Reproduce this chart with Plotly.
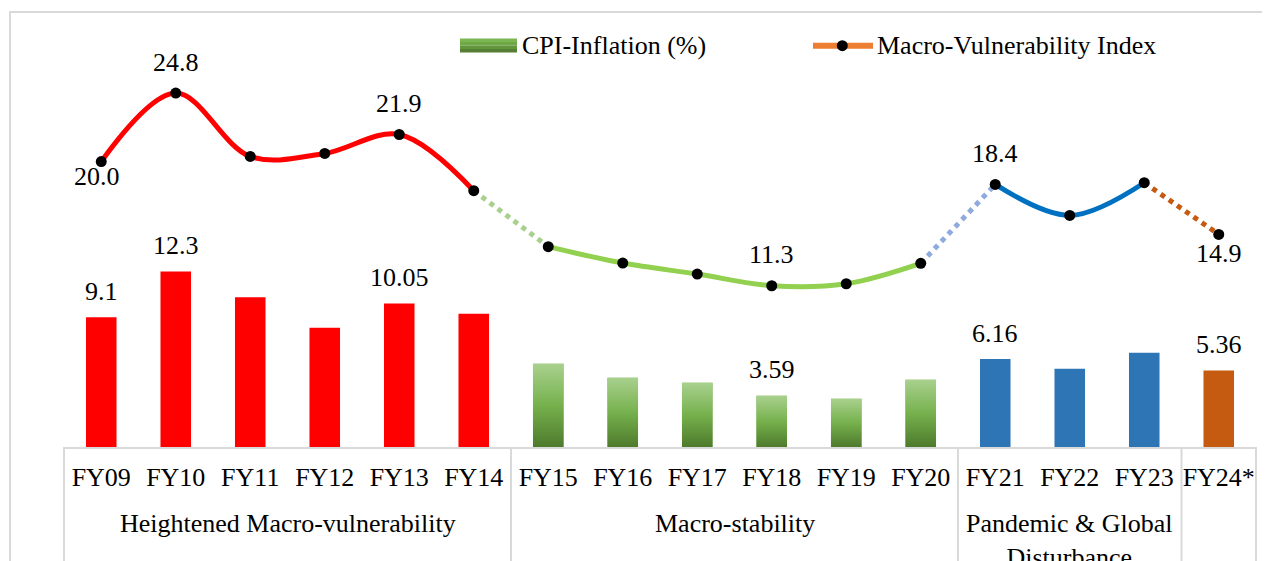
import plotly.graph_objects as go

# ---------------- data ----------------
categories = ["FY09", "FY10", "FY11", "FY12", "FY13", "FY14", "FY15", "FY16",
              "FY17", "FY18", "FY19", "FY20", "FY21", "FY22", "FY23", "FY24*"]
cpi = [9.1, 12.3, 10.5, 8.36, 10.05, 9.34, 5.84, 4.86,
       4.5, 3.59, 3.38, 4.72, 6.16, 5.49, 6.61, 5.36]
mvi = [20.0, 24.8, 20.36, 20.57, 21.9, 17.96, 14.04, 12.89,
       12.12, 11.3, 11.44, 12.87, 18.4, 16.23, 18.52, 14.9]
cpi_labels = ["9.1", "12.3", "", "", "10.05", "", "", "",
              "", "3.59", "", "", "6.16", "", "", "5.36"]
mvi_labels = ["20.0", "24.8", "", "", "21.9", "", "", "",
              "", "11.3", "", "", "18.4", "", "", "14.9"]
periods = ["Heightened Macro-vulnerability", "Macro-stability",
           "Pandemic & Global<br>Disturbance", ""]
period_sizes = [6, 6, 3, 1]

# ---------------- styling ----------------
FONT = "Liberation Serif, Times New Roman, serif"
FS = 26
bar_colors = ["#FF0000", "#70AD47", "#2E75B6", "#C55A11"]
green_scale = [[0, "#4E7A2C"], [0.5, "#76B14D"], [1, "#A9D18E"]]
# line segments: (start index, end index, colour, dash)
segments = [(0, 5, "#FF0000", "solid"), (5, 6, "#A9D18E", "5px,5px"),
            (6, 11, "#92D050", "solid"), (11, 12, "#8FAADC", "5px,5px"),
            (12, 14, "#0070C0", "solid"), (14, 15, "#C55A11", "5px,5px")]
BAR_W = 0.41

OFF = 8                      # page body margin
W, H = 1262, 553
ML, MR, MT, MB = 56, 14, 12, 114
PW, PH = W - ML - MR, H - MT - MB
PX_PER_UNIT = 14.27
YMAX = PH / PX_PER_UNIT
N = len(categories)


def px(xp):
    """page pixel x -> paper fraction"""
    return (xp - OFF - ML) / PW


def py(yp):
    """page pixel y -> paper fraction"""
    return (OFF + H - MB - yp) / PH


idx = list(range(N))
fig = go.Figure()

# bars per period
start = 0
period_ranges = []
for p, size in enumerate(period_sizes):
    ids = idx[start:start + size]
    period_ranges.append((start, start + size))
    fig.add_trace(go.Bar(x=ids, y=cpi[start:start + size], width=BAR_W,
                         marker=dict(color=bar_colors[p], line=dict(width=0)),
                         name="CPI-Inflation (%)", showlegend=False))
    start += size

# gradient overlay for macro-stability bars
g0, g1 = period_ranges[1]
for i in range(g0, g1):
    v = cpi[i]
    fig.add_trace(go.Scatter(
        x=[i - BAR_W / 2, i + BAR_W / 2, i + BAR_W / 2, i - BAR_W / 2],
        y=[0, 0, v, v], fill="toself", mode="lines", line=dict(width=0),
        fillgradient=dict(type="vertical", start=0, stop=v, colorscale=green_scale),
        hoverinfo="skip", showlegend=False))

# MVI line segments
for a, b, col, dash in segments:
    fig.add_trace(go.Scatter(x=idx[a:b + 1], y=mvi[a:b + 1], mode="lines",
                             line=dict(color=col, width=5, dash=dash, shape="spline"),
                             hoverinfo="skip", showlegend=False))
fig.add_trace(go.Scatter(x=idx, y=mvi, mode="markers",
                         marker=dict(color="black", size=11),
                         name="Macro-Vulnerability Index", showlegend=False))

annotations = []
# bar labels
for i, t in enumerate(cpi_labels):
    if t:
        annotations.append(dict(x=i, y=cpi[i], text=t, showarrow=False,
                                yanchor="middle", yshift=26,
                                font=dict(family=FONT, size=FS, color="black")))
# line labels
below = {0: (-15, -4), 15: (-19, 0)}
for i, t in enumerate(mvi_labels):
    if t:
        ys, xs = below.get(i, (31, 0))
        annotations.append(dict(x=i, y=mvi[i], text=t, showarrow=False,
                                yanchor="middle", yshift=ys, xshift=xs,
                                font=dict(family=FONT, size=FS, color="black")))
# period labels
for (a, b), name in zip(period_ranges, periods):
    if name:
        annotations.append(dict(x=(a + b - 1) / 2, xref="x", y=py(507), yref="paper",
                                text=name, showarrow=False, yanchor="top",
                                font=dict(family=FONT, size=FS, color="black")))
# legend text
annotations.append(dict(x=px(520), y=py(45.5), xref="paper", yref="paper",
                        text="CPI-Inflation (%)", showarrow=False, xanchor="left",
                        yanchor="middle", font=dict(family=FONT, size=FS, color="black")))
annotations.append(dict(x=px(875), y=py(45.5), xref="paper", yref="paper",
                        text="Macro-Vulnerability Index", showarrow=False, xanchor="left",
                        yanchor="middle", font=dict(family=FONT, size=FS, color="black")))

shapes = []
# outer chart border
shapes.append(dict(type="rect", xref="paper", yref="paper", x0=px(10), x1=px(1300),
                   y0=py(12), y1=py(700), line=dict(color="#D9D9D9", width=2)))
# category group dividers
bounds = [-0.5] + [b - 0.5 for _, b in period_ranges]
for bnd in bounds:
    xp = (bnd + 0.5) / N
    shapes.append(dict(type="line", xref="paper", yref="paper", x0=xp, x1=xp,
                       y0=0, y1=py(700), line=dict(color="#D9D9D9", width=2)))
# legend swatches
sw = ["#7BB653", "#6FA846", "#62963D", "#557F33"]
for k, c in enumerate(sw):
    shapes.append(dict(type="rect", xref="paper", yref="paper", x0=px(460), x1=px(517),
                       y0=py(38.5 + k * 3.5), y1=py(38.5 + (k + 1) * 3.5),
                       fillcolor=c, line=dict(width=0)))
shapes.append(dict(type="line", xref="paper", yref="paper", x0=px(813), x1=px(873),
                   y0=py(45.7), y1=py(45.7), line=dict(color="#ED7D31", width=6)))
shapes.append(dict(type="circle", xref="paper", yref="paper", x0=px(836.8), x1=px(847.8),
                   y0=py(40.2), y1=py(51.2), fillcolor="black", line=dict(width=0)))

fig.update_layout(
    width=W, height=H, margin=dict(l=ML, r=MR, t=MT, b=MB),
    paper_bgcolor="white", plot_bgcolor="white",
    barmode="overlay", showlegend=False,
    font=dict(family=FONT, size=FS, color="black"),
    xaxis=dict(range=[-0.5, N - 0.5], tickvals=idx, ticktext=categories,
               showline=True, linecolor="#D9D9D9", linewidth=2, ticks="",
               ticklabelstandoff=6,
               showgrid=False, zeroline=False,
               tickfont=dict(family=FONT, size=FS, color="black")),
    yaxis=dict(range=[0, YMAX], visible=False, showgrid=False, zeroline=False),
    annotations=annotations, shapes=shapes,
)

fig.write_html("out.html")
